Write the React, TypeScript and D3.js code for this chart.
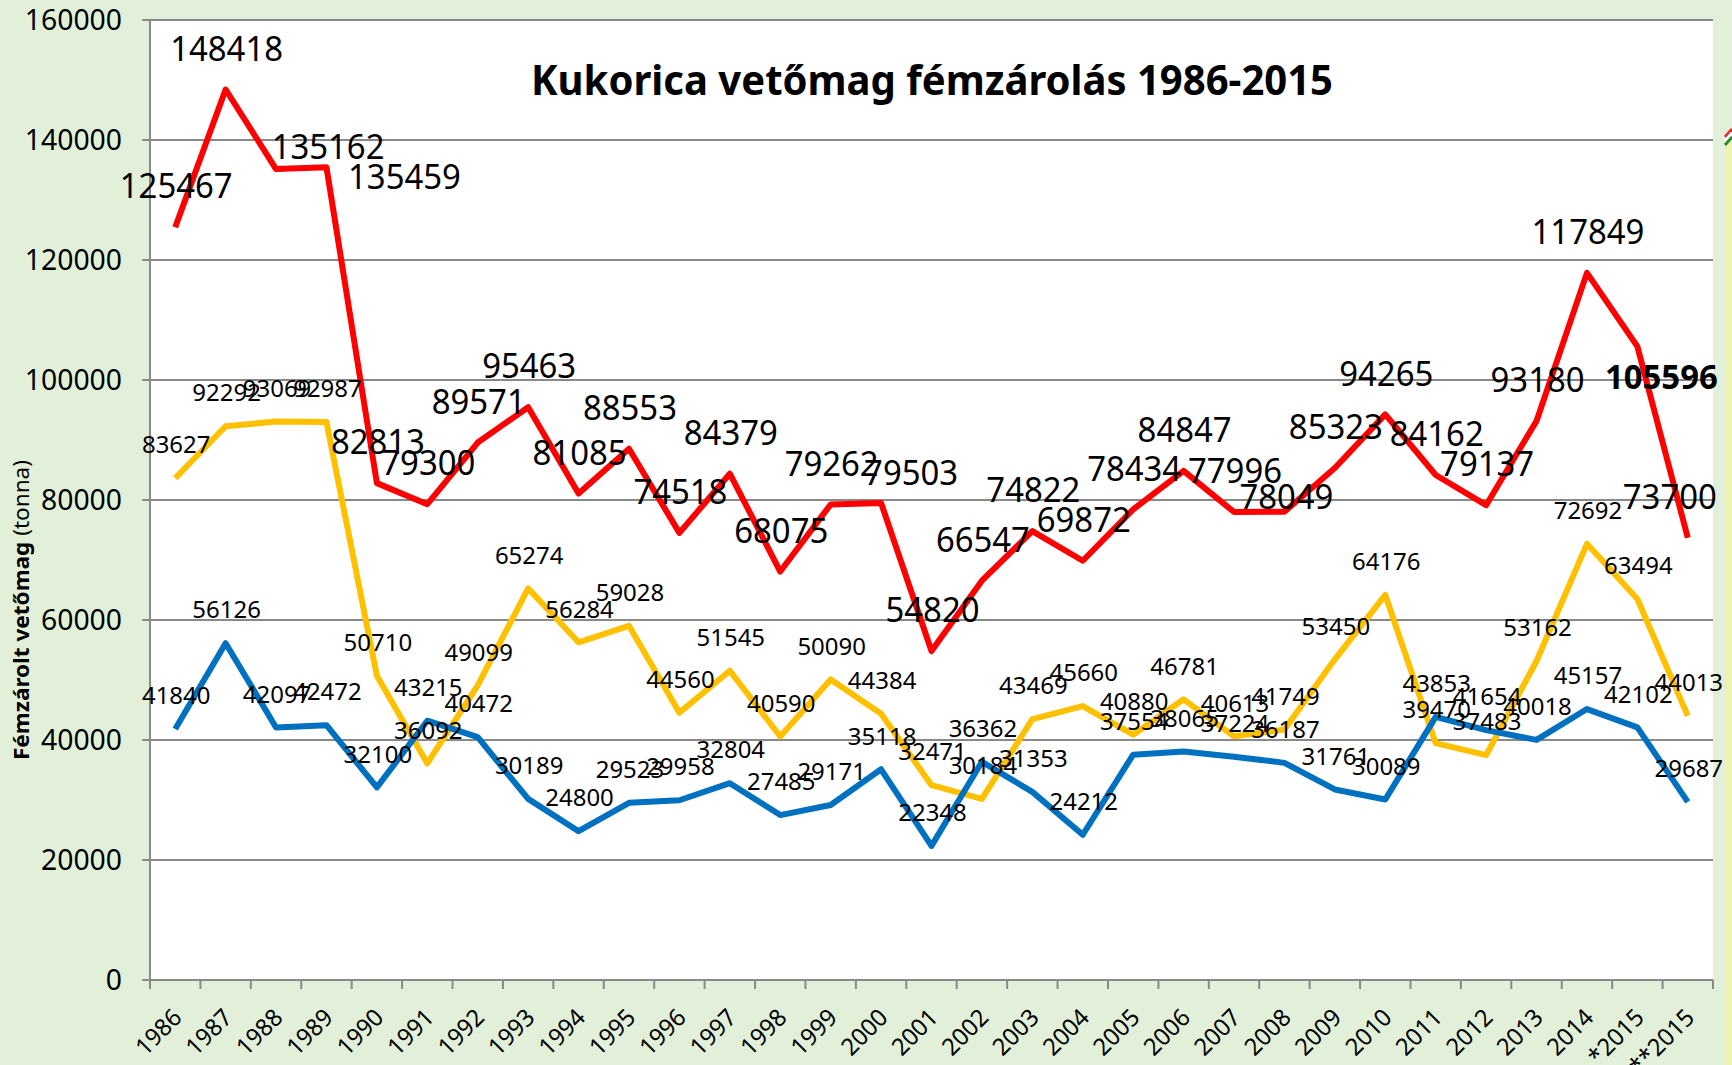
import React from "react";
import * as d3 from "d3";

const categories = [
  "1986","1987","1988","1989","1990","1991","1992","1993","1994","1995",
  "1996","1997","1998","1999","2000","2001","2002","2003","2004","2005",
  "2006","2007","2008","2009","2010","2011","2012","2013","2014","*2015","**2015",
];

const redValues = [
  125467,148418,135162,135459,82813,79300,89571,95463,81085,88553,
  74518,84379,68075,79262,79503,54820,66547,74822,69872,78434,
  84847,77996,78049,85323,94265,84162,79137,93180,117849,105596,73700,
];

const yellowValues = [
  83627,92292,93069,92987,50710,36092,49099,65274,56284,59028,
  44560,51545,40590,50090,44384,32471,30184,43469,45660,40880,
  46781,40613,41749,53450,64176,39470,37483,53162,72692,63494,44013,
];

const blueValues = [
  41840,56126,42097,42472,32100,43215,40472,30189,24800,29523,
  29958,32804,27485,29171,35118,22348,36362,31353,24212,37554,
  38065,37224,36187,31761,30089,43853,41654,40018,45157,42102,29687,
];

const yTicks = [0, 20000, 40000, 60000, 80000, 100000, 120000, 140000, 160000];

const title = "Kukorica vetőmag fémzárolás 1986-2015";
const yTitleBold = "Fémzárolt vetőmag";
const yTitleNormal = " (tonna)";

// label nudges (index -> [dx, dy]) for the red series, relative to default placement
const redLabelNudges: Record<number, [number, number]> = {
  2: [52, -22],
  3: [78, 10],
  14: [30, -30],
  22: [2, -15],
  29: [24, 30],
  30: [-18, -41],
};
const redBoldIndex = 29;

const W = 1732;
const H = 1065;
const PL = 150;
const PR = 1713;
const PT = 20;
const PB = 980;
const FONT = "'Noto Sans', 'Open Sans', sans-serif";
const BG = "#e2f0d9";
const GRID = "#898989";

export default function App() {
  const x = d3.scaleBand<string>().domain(categories).range([PL, PR]).paddingInner(0).paddingOuter(0);
  const bw = x.bandwidth();
  const cx = (i: number) => (x(categories[i]) as number) + bw / 2;
  const y = d3.scaleLinear().domain([0, 160000]).range([PB, PT]);

  const line = d3
    .line<number>()
    .x((_, i) => cx(i))
    .y((d) => y(d));

  const series = [
    { values: yellowValues, color: "#ffc000" },
    { values: blueValues, color: "#0070c0" },
    { values: redValues, color: "#ff0000" },
  ];

  const smallFs = 23;
  const smallCw = 13.7;
  const bigFs = 34;
  const bigCw = 18.8;

  const boundaries = d3.range(categories.length + 1).map((k) => PL + k * bw);

  return (
    <div style={{ position: "absolute", left: 0, top: 0, width: W, height: H }}>
      <svg width={W} height={H} style={{ display: "block" }}>
        <rect x={0} y={0} width={W} height={H} fill={BG} />
        <rect x={1725} y={140} width={7} height={H - 140} fill="#eef2b0" />
        <line x1={1725} y1={137} x2={1732} y2={129} stroke="#e03030" strokeWidth={3} />
        <line x1={1725} y1={141} x2={1732} y2={133} stroke="#ffffff" strokeWidth={3} />
        <line x1={1725} y1={145} x2={1732} y2={137} stroke="#2e8b3a" strokeWidth={3} />
        <rect x={PL} y={PT} width={PR - PL} height={PB - PT} fill="#ffffff" />

        {/* gridlines + y ticks */}
        {yTicks.map((t) => (
          <g key={t}>
            <line x1={PL - 8} x2={PR} y1={y(t)} y2={y(t)} stroke={GRID} strokeWidth={2} />
            <text
              x={122}
              y={y(t) + 0.357 * 29}
              textAnchor="end"
              fontFamily={FONT}
              fontSize={29}
              fill="#000"
              textLength={String(t).length * 16.2}
              lengthAdjust="spacingAndGlyphs"
            >
              {t}
            </text>
          </g>
        ))}
        <line x1={PL} x2={PL} y1={PT} y2={PB} stroke={GRID} strokeWidth={2} />
        {boundaries.map((bx, k) => (
          <line key={k} x1={bx} x2={bx} y1={PB} y2={PB + 9} stroke={GRID} strokeWidth={2} />
        ))}

        {/* x tick labels */}
        {categories.map((c, i) => {
          const ax = cx(i) + 2;
          const ay = 1013;
          return (
            <text
              key={c}
              transform={`translate(${ax},${ay}) rotate(-45)`}
              y={0.357 * 24}
              textAnchor="end"
              fontFamily={FONT}
              fontSize={24}
              fill="#000"
              textLength={c.length * 13.4}
              lengthAdjust="spacingAndGlyphs"
            >
              {c}
            </text>
          );
        })}

        {/* title */}
        <text
          x={932}
          y={95}
          textAnchor="middle"
          fontFamily={FONT}
          fontWeight="bold"
          fontSize={41}
          fill="#000"
          textLength={802}
          lengthAdjust="spacingAndGlyphs"
        >
          {title}
        </text>

        {/* y axis title */}
        <text
          transform={`translate(29,610) rotate(-90)`}
          textAnchor="middle"
          fontFamily={FONT}
          fontSize={21}
          fill="#000"
          textLength={300}
          lengthAdjust="spacingAndGlyphs"
        >
          <tspan fontWeight="bold">{yTitleBold}</tspan>
          <tspan>{yTitleNormal}</tspan>
        </text>

        {/* lines */}
        {series.map((s, k) => (
          <path
            key={k}
            d={line(s.values) as string}
            fill="none"
            stroke={s.color}
            strokeWidth={6}
            strokeLinejoin="round"
            strokeLinecap="butt"
          />
        ))}

        {/* small labels */}
        {[yellowValues, blueValues].map((vals, k) =>
          vals.map((v, i) => {
            const s = String(v);
            return (
              <text
                key={`${k}-${i}`}
                x={cx(i) + 1}
                y={y(v) - 33 + 0.357 * smallFs}
                textAnchor="middle"
                fontFamily={FONT}
                fontSize={smallFs}
                fill="#000"
                textLength={s.length * smallCw}
                lengthAdjust="spacingAndGlyphs"
              >
                {s}
              </text>
            );
          })
        )}

        {/* red labels */}
        {redValues.map((v, i) => {
          const s = String(v);
          const [dx, dy] = redLabelNudges[i] ?? [1, -41];
          const bold = i === redBoldIndex;
          return (
            <text
              key={`r-${i}`}
              x={cx(i) + dx}
              y={y(v) + dy + 0.357 * bigFs}
              textAnchor="middle"
              fontFamily={FONT}
              fontSize={bigFs}
              fontWeight={bold ? "bold" : "normal"}
              fill="#000"
              textLength={s.length * bigCw}
              lengthAdjust="spacingAndGlyphs"
            >
              {s}
            </text>
          );
        })}
      </svg>
    </div>
  );
}
